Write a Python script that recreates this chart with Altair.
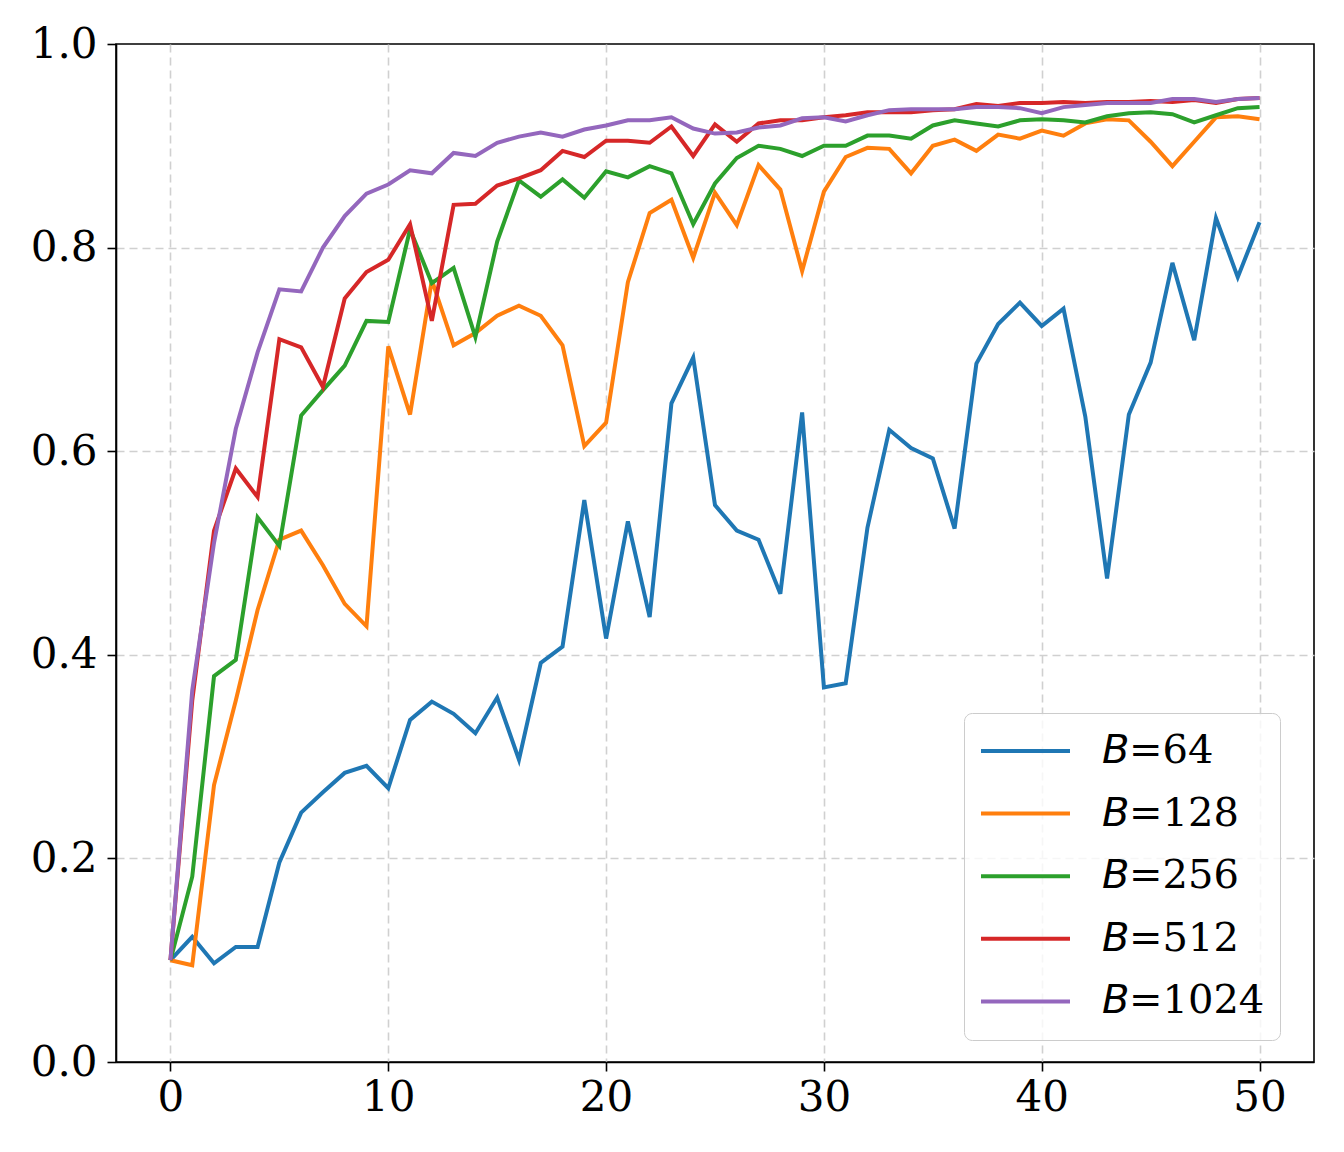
import altair as alt
import pandas as pd

epochs = list(range(51))

b64 = [0.100, 0.123, 0.097, 0.113, 0.113, 0.196, 0.245, 0.265, 0.284, 0.291, 0.269,
       0.336, 0.354, 0.342, 0.323, 0.358, 0.297, 0.392, 0.408, 0.552, 0.416,
       0.531, 0.437, 0.647, 0.692, 0.547, 0.522, 0.513, 0.460, 0.638, 0.368,
       0.372, 0.525, 0.621, 0.603, 0.593, 0.524, 0.686, 0.725, 0.746, 0.723,
       0.740, 0.634, 0.475, 0.636, 0.687, 0.785, 0.709, 0.829, 0.771, 0.825]
b128 = [0.100, 0.095, 0.272, 0.355, 0.444, 0.513, 0.522, 0.488, 0.450, 0.428, 0.703,
        0.636, 0.768, 0.704, 0.716, 0.733, 0.743, 0.733, 0.704, 0.605, 0.628,
        0.766, 0.834, 0.847, 0.790, 0.854, 0.822, 0.881, 0.857, 0.777, 0.855,
        0.889, 0.898, 0.897, 0.873, 0.900, 0.906, 0.895, 0.911, 0.907, 0.915,
        0.910, 0.922, 0.926, 0.925, 0.904, 0.880, 0.904, 0.928, 0.929, 0.926]
b256 = [0.100, 0.182, 0.379, 0.395, 0.535, 0.507, 0.635, 0.660, 0.684, 0.728, 0.727,
        0.818, 0.765, 0.780, 0.712, 0.806, 0.866, 0.850, 0.867, 0.849, 0.875,
        0.869, 0.880, 0.873, 0.823, 0.863, 0.888, 0.900, 0.897, 0.890, 0.900,
        0.900, 0.910, 0.910, 0.907, 0.920, 0.925, 0.922, 0.919, 0.925, 0.926,
        0.925, 0.923, 0.929, 0.932, 0.933, 0.931, 0.923, 0.930, 0.937, 0.938]
b512 = [0.100, 0.355, 0.522, 0.583, 0.555, 0.710, 0.702, 0.663, 0.750, 0.776, 0.788,
        0.823, 0.728, 0.842, 0.843, 0.861, 0.868, 0.876, 0.895, 0.889, 0.905,
        0.905, 0.903, 0.919, 0.890, 0.921, 0.904, 0.922, 0.925, 0.925, 0.928,
        0.930, 0.933, 0.933, 0.933, 0.935, 0.936, 0.941, 0.939, 0.942, 0.942,
        0.943, 0.942, 0.943, 0.943, 0.944, 0.943, 0.945, 0.942, 0.946, 0.947]
b1024 = [0.100, 0.365, 0.510, 0.622, 0.697, 0.759, 0.757, 0.800, 0.831, 0.853, 0.862,
         0.876, 0.873, 0.893, 0.890, 0.903, 0.909, 0.913, 0.909, 0.916, 0.920,
         0.925, 0.925, 0.928, 0.917, 0.912, 0.913, 0.918, 0.920, 0.927, 0.928,
         0.924, 0.930, 0.935, 0.936, 0.936, 0.936, 0.938, 0.938, 0.937, 0.932,
         0.938, 0.940, 0.942, 0.942, 0.942, 0.946, 0.946, 0.943, 0.946, 0.947]

# sans-serif italic B, like matplotlib's mathtext $B$
batch_labels = ["\U0001D609=64", "\U0001D609=128", "\U0001D609=256", "\U0001D609=512", "\U0001D609=1024"]
colors = ["#1f77b4", "#ff7f0e", "#2ca02c", "#d62728", "#9467bd"]

## long table, one row per (batch size, epoch)
rows = []
for label, vals in zip(batch_labels, [b64, b128, b256, b512, b1024]):
    for e, v in zip(epochs, vals):
        rows.append({"batch": label, "epoch": e, "acc": v})
df = pd.DataFrame(rows)

# no grid line on top of the frame (y = 0 and y = 1)
y_grid_opacity = {"condition": {"test": "datum.value <= 0 || datum.value >= 1", "value": 0}, "value": 1}

chart = alt.Chart(df).mark_line(strokeWidth=4).encode(
    x=alt.X("epoch:Q",
            scale=alt.Scale(domain=[-2.5, 52.5], nice=False, zero=False),
            axis=alt.Axis(values=[0, 10, 20, 30, 40, 50], format="d", title=None, labelPadding=6)),
    y=alt.Y("acc:Q",
            scale=alt.Scale(domain=[0, 1], nice=False),
            axis=alt.Axis(values=[0, 0.2, 0.4, 0.6, 0.8, 1.0], format=".1f", title=None, labelPadding=10,
                          gridOpacity=y_grid_opacity)),
    color=alt.Color("batch:N", title=None, sort=batch_labels,
                    scale=alt.Scale(domain=batch_labels, range=colors),
                    legend=alt.Legend(orient="none", legendX=848, legendY=669,
                                      symbolType="stroke", symbolSize=7921, symbolStrokeWidth=4,
                                      clipHeight=46, rowPadding=16.6,
                                      labelFont="DejaVu Serif", labelFontSize=40, labelColor="black",
                                      labelOffset=30, labelLimit=400, padding=15,
                                      strokeColor="#cccccc", fillColor="rgba(255,255,255,0.8)",
                                      cornerRadius=8)),
).properties(
    width=1198,
    height=1018,
    autosize=alt.AutoSizeParams(type="none"),
    padding={"left": 108, "top": 36, "right": 22, "bottom": 82},
).configure_axis(
    labelFont="DejaVu Serif",
    labelFontSize=42,
    labelColor="black",
    domainColor="black",
    domainWidth=1.6,
    tickColor="black",
    tickWidth=1.6,
    tickSize=9,
    gridColor="#d0d0d0",
    gridDash=[8, 5],
    gridWidth=1.6,
).configure_view(
    stroke="black",
    strokeWidth=1.6,
)

chart.save("out.html", embed_options={"renderer": "svg", "actions": False})
